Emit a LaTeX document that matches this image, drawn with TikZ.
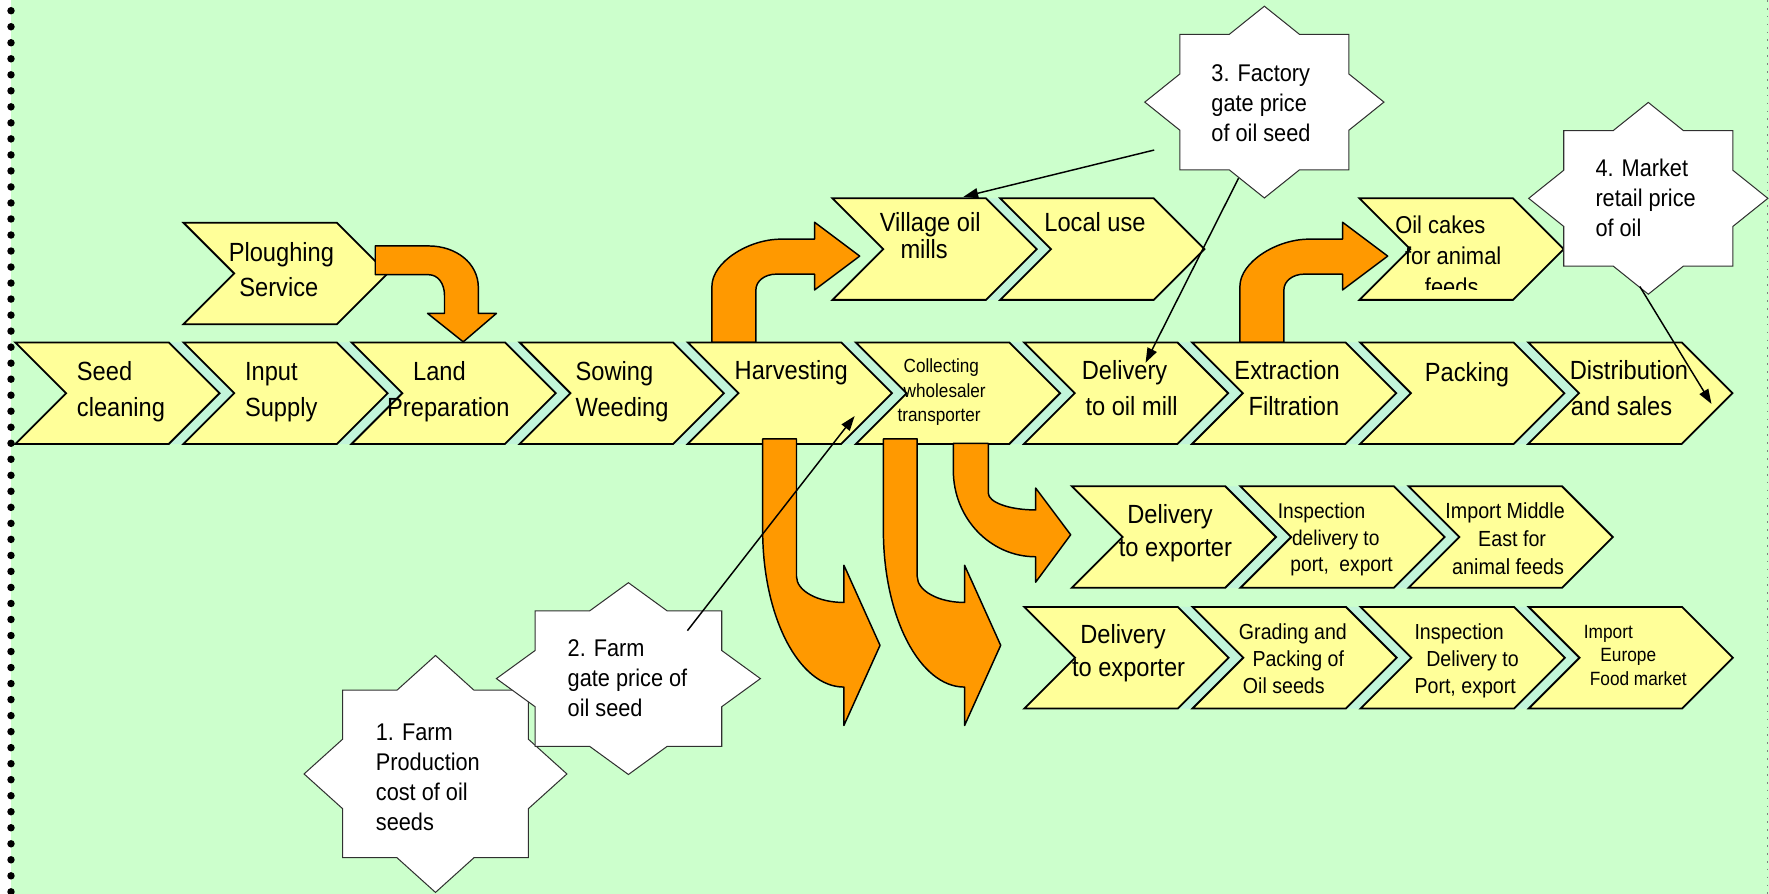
\documentclass[tikz,border=0pt]{standalone}
\usepackage{fontspec}
\setmainfont{Liberation Sans}[FakeStretch=0.9]
\usetikzlibrary{arrows.meta}
\definecolor{bg}{HTML}{CCFFCC}
\definecolor{chevfill}{HTML}{FFFF99}
\definecolor{orng}{HTML}{FF9900}
\definecolor{shadowc}{HTML}{C2F5DA}
\definecolor{starline}{HTML}{303030}
\definecolor{dotgray}{HTML}{808080}

\newcommand\tln[2][0]{\hbox{\hspace*{#1pt}#2}}
\newcommand\chevshape[3]{%
  \filldraw[chevron] (#1,#2) -- ++(136,0) -- ++(45,45) -- ++(-45,45) -- ++(-136,0) -- ++(45,-45) -- cycle;
  \coordinate (#3) at ({#1+90},{#2+45});}
\newcommand\chevshadow[2]{%
  \fill[shadowc] ({#1-16},#2) -- ++(136,0) -- ++(45,45) -- ++(-45,45) -- ++(-136,0) -- ++(45,-45) -- cycle;}
\newcommand\starshape[5]{%
  \filldraw[starbox] ({#2+#4},#3) \foreach \a in {0,45,...,315}{ -- ({#2+0.7654*#4*cos(\a+22.5)},{#3+0.7654*#5*sin(\a+22.5)}) -- ({#2+#4*cos(\a+45)},{#3+#5*sin(\a+45)})} -- cycle;
  \coordinate (#1) at (#2,#3);}
\newcommand\bentup[1]{%
  \begin{scope}[xshift=#1pt]
  \filldraw[orarrow] (631,303.5) -- (631,254) .. controls (631,232) and (664,212) .. (692,212) -- (722,212) -- (722,197) -- (762,227) -- (722,257) -- (722,243) -- (688,243) .. controls (678,243) and (670,249) .. (670,257) -- (670,303.5) -- cycle;
  \end{scope}}
\newcommand\bentdown[1]{%
  \begin{scope}[xshift=#1pt]
  \filldraw[orarrow] (676,389) -- (706,389) -- (706,511) .. controls (706,523.7) and (724.8,534) .. (748,534) -- (748,501) -- (780,572) -- (748,643) -- (748,609) .. controls (708.2,609) and (676,546.8) .. (676,470) -- cycle;
  \end{scope}}

\begin{document}
\begin{tikzpicture}[x=1pt,y=-1pt,
  chevron/.style={fill=chevfill, draw=black, line width=1.6pt, line join=miter},
  orarrow/.style={fill=orng, draw=black, line width=1.3pt, line join=round},
  starbox/.style={fill=white, draw=starline, line width=0.9pt},
  txt/.style={inner sep=0pt, anchor=base west, text=black},
  conn/.style={draw=black, line width=1.3pt, -{Triangle[length=13pt,width=9pt]}}]
\useasboundingbox (0,0) rectangle (1568,792);
% background
\fill[white] (0,0) rectangle (1568,792);
\fill[bg] (9.75,0) rectangle (1568,792);
\foreach \i in {0,...,55} {\fill[black] (9.75,{9.5+14.2*\i}) circle[radius=3.3pt];}
\draw[dotgray, line width=1.2pt, dash pattern=on 1.5pt off 5.5pt] (1566.5,0) -- (1566.5,792);

% shadows
\foreach \x in {162.6,311.6,460.6,609.6,758.6,907.6,1056.6,1205.6,1354.6} {\chevshadow{\x}{303.5}}
\chevshadow{886.6}{175.8}
\chevshadow{1099.5}{431}
\chevshadow{1248.5}{431}
\chevshadow{1057}{538}
\chevshadow{1206}{538}
\chevshadow{1355}{538}

% bent-up arrows under the main row
\bentup{0}
\bentup{468}

% main row
\chevshape{13.6}{303.5}{c1}
\chevshape{162.6}{303.5}{c2}
\chevshape{311.6}{303.5}{c3}
\chevshape{460.6}{303.5}{c4}
\chevshape{609.6}{303.5}{c5}
\chevshape{758.6}{303.5}{c6}
\chevshape{907.6}{303.5}{c7}
\chevshape{1056.6}{303.5}{c8}
\chevshape{1205.6}{303.5}{c9}
\chevshape{1354.6}{303.5}{c10}
% upper chevrons
\chevshape{162.6}{197.4}{pl}
\chevshape{737.9}{175.8}{vm}
\chevshape{886.6}{175.8}{lu}
\chevshape{1205}{175.8}{oc}
% export rows
\chevshape{950}{431}{ra1}
\chevshape{1099.5}{431}{ra2}
\chevshape{1248.5}{431}{ra3}
\chevshape{908}{538}{rb1}
\chevshape{1057}{538}{rb2}
\chevshape{1206}{538}{rb3}
\chevshape{1355}{538}{rb4}

% ploughing arrow
\filldraw[orarrow] (332.6,218) -- (380,218) .. controls (404,218) and (424,233) .. (424,255) -- (424,277.8) -- (440,277.8) -- (410.6,303) -- (379,277.8) -- (394,277.8) -- (394,262) .. controls (394,251) and (388,243.5) .. (380,243.5) -- (332.6,243.5) -- cycle;
% curved down arrows
\bentdown{0}
\bentdown{107}
\filldraw[orarrow] (845,393) -- (876,393) -- (876,437) .. controls (876,445.3) and (894.8,452) .. (918,452) -- (918,432.6) -- (949,474) -- (918,516) -- (918,493.5) .. controls (877.7,493.5) and (845,459.3) .. (845,417) -- cycle;

% main row texts
\node[txt] (t1) at (68,337) {\fontsize{23.3}{32}\selectfont\vtop{\tln{Seed}\tln{cleaning}}};
\node[txt] (t2) at (217,337) {\fontsize{23.3}{32}\selectfont\vtop{\tln{Input}\tln{Supply}}};
\node[txt] (t3) at (343,337) {\fontsize{23.3}{32}\selectfont\vtop{\tln[23]{Land}\tln{Preparation}}};
\node[txt] (t4) at (510,337) {\fontsize{23.3}{32}\selectfont\vtop{\tln{Sowing}\tln{Weeding}}};
\node[txt] (t5) at (651,336) {\fontsize{23.3}{32}\selectfont Harvesting};
\node[txt] (t6) at (795.5,330.4) {\fontsize{16.9}{21.7}\selectfont\vtop{\tln[5.3]{Collecting}\tln[5.3]{wholesaler}\tln{transporter}}};
\node[txt] (t7) at (958.7,336) {\fontsize{23.3}{32}\selectfont\vtop{\tln{Delivery}\tln[3.3]{to oil mill}}};
\node[txt] (t8) at (1094,336.3) {\fontsize{23.3}{32}\selectfont\vtop{\tln{Extraction}\tln[12.5]{Filtration}}};
\node[txt] (t9) at (1262.8,338.4) {\fontsize{23.3}{32}\selectfont Packing};
\node[txt] (t10) at (1391.2,336.3) {\fontsize{23.3}{32}\selectfont\vtop{\tln{Distribution}\tln[1]{and sales}}};
% upper texts
\node[txt] (t11) at (202.6,232) {\fontsize{23.3}{30.4}\selectfont\vtop{\tln{Ploughing}\tln[9.4]{Service}}};
\node[txt] (t12) at (779.6,205.4) {\fontsize{23.3}{23.6}\selectfont\vtop{\tln{Village oil}\tln[18.4]{mills}}};
\node[txt] (t13) at (925.5,205.4) {\fontsize{23.3}{30}\selectfont Local use};
\begin{scope}
\clip (1200,170) rectangle (1390,256.5);
\node[txt] (t14) at (1236.5,206.8) {\fontsize{21.6}{27.5}\selectfont\vtop{\tln{Oil cakes}\tln[8.7]{for animal}\tln[26.3]{feeds}}};
\end{scope}
% export row texts
\node[txt] (t15) at (991.5,464) {\fontsize{23.3}{29.5}\selectfont\vtop{\tln[7.5]{Delivery}\tln{to exporter}}};
\node[txt] (t16) at (1132.4,459.5) {\fontsize{18.9}{23.6}\selectfont\vtop{\tln{Inspection}\tln[12.6]{delivery to}\tln[11.2]{port,~ export}}};
\node[txt] (t17) at (1281,460) {\fontsize{19.4}{24.5}\selectfont\vtop{\tln{Import Middle}\tln[29]{East for}\tln[6]{animal feeds}}};
\node[txt] (t18) at (950,570.4) {\fontsize{23.3}{29.6}\selectfont\vtop{\tln[7.4]{Delivery}\tln{to exporter}}};
\node[txt] (t19) at (1098,566.8) {\fontsize{19.3}{24.1}\selectfont\vtop{\tln{Grading and}\tln[12]{Packing of}\tln[3.5]{Oil seeds}}};
\node[txt] (t20) at (1253.6,566.8) {\fontsize{19.3}{24.1}\selectfont\vtop{\tln{Inspection}\tln[10.4]{Delivery to}\tln{Port, export}}};
\node[txt] (t21) at (1403.7,566) {\fontsize{17}{20.7}\selectfont\vtop{\tln{Import}\tln[14.7]{Europe}\tln[5.3]{Food market}}};

% stars
\starshape{s3}{1120.7}{90.5}{106}{85}
\starshape{s4}{1461}{175.8}{106}{85}
\starshape{s1}{386}{686}{116.5}{105}
\starshape{s2}{557}{601.5}{117}{85}
\node[txt] (st1) at (333,656) {\fontsize{21.4}{26.8}\selectfont\vtop{\tln{1. Farm}\tln{Production}\tln{cost of oil}\tln{seeds}}};
\node[txt] (st2) at (503,582) {\fontsize{21.4}{26.6}\selectfont\vtop{\tln{2. Farm}\tln{gate price of}\tln{oil seed}}};
\node[txt] (st3) at (1073.6,71.8) {\fontsize{21.4}{26.6}\selectfont\vtop{\tln{3. Factory}\tln{gate price}\tln{of oil seed}}};
\node[txt] (st4) at (1414,156.6) {\fontsize{21.4}{26.6}\selectfont\vtop{\tln{4. Market}\tln{retail price}\tln{of oil}}};

% connectors
\coordinate (l1s) at (1023,133); \coordinate (l1e) at (854,174.4);
\coordinate (l2s) at (1097.8,158); \coordinate (l2e) at (1015.4,321.5);
\coordinate (l3s) at (609.3,559); \coordinate (l3e) at (757.5,368.8);
\coordinate (l4s) at (1453.5,254); \coordinate (l4e) at (1517,358);
\draw[conn] (l1s) -- (l1e);
\draw[conn] (l2s) -- (l2e);
\draw[conn] (l3s) -- (l3e);
\draw[conn] (l4s) -- (l4e);
\end{tikzpicture}
\end{document}
